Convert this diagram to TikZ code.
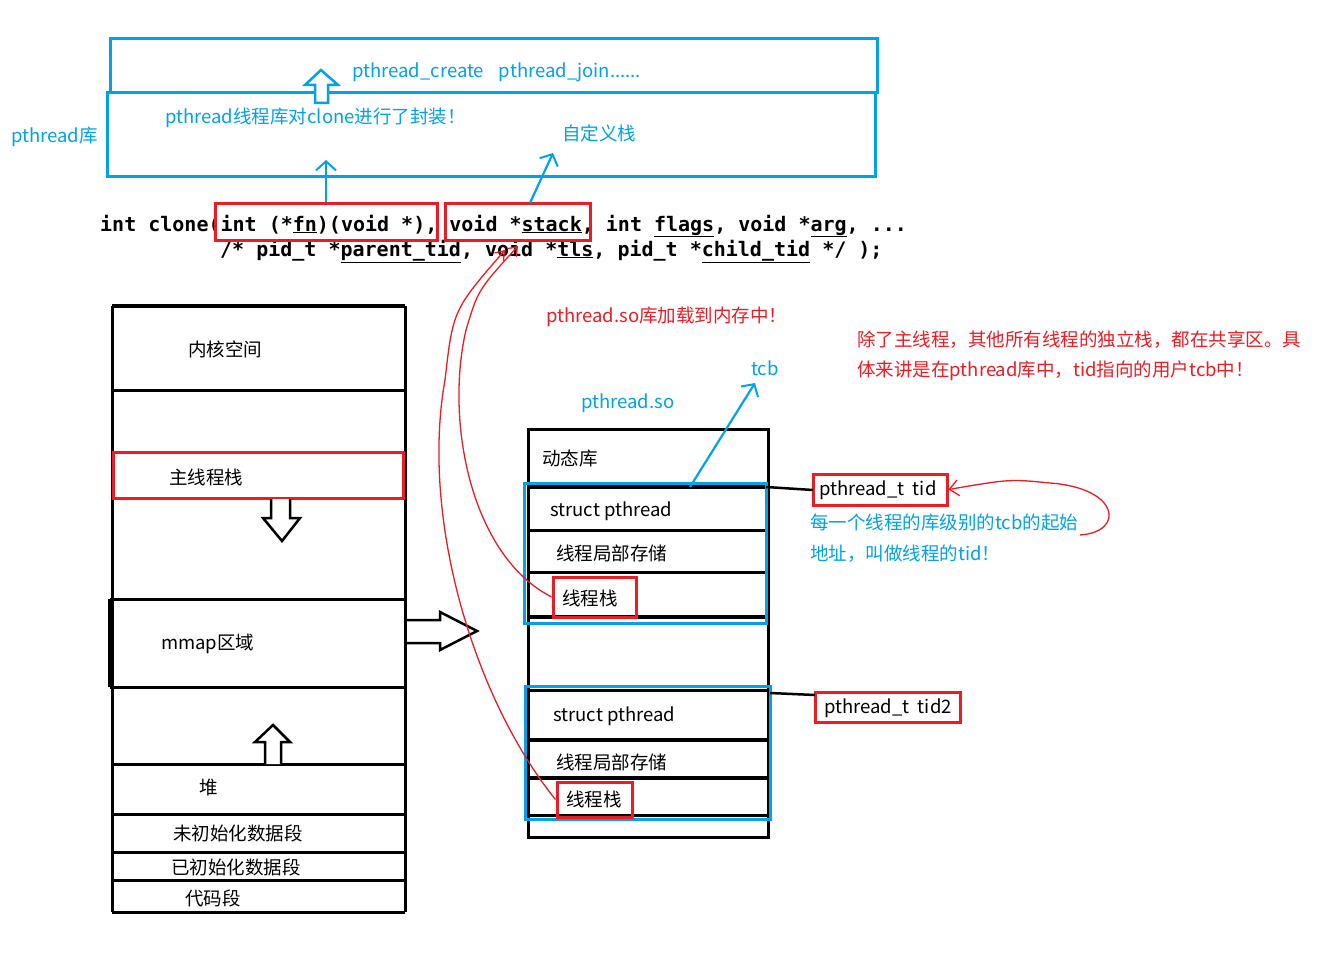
\documentclass[tikz,border=0pt]{standalone}
\usepackage{fontspec}
\setmainfont{Noto Sans CJK SC}
\newfontfamily\codefont{DejaVu Sans Mono}
\usetikzlibrary{arrows.meta}
\definecolor{pblue}{RGB}{0,162,232}
\definecolor{pred}{RGB}{237,28,36}
\begin{document}
\begin{tikzpicture}[x=1pt,y=-1pt,
  lbl/.style={anchor=west,inner sep=0pt,font=\fontsize{18.5}{22}\selectfont},
  bluetxt/.style={lbl,text=pblue},
  redtxt/.style={lbl,text=pred},
  code/.style={anchor=base west,inner sep=0pt,font=\codefont\bfseries\fontsize{20}{24}\selectfont},
  blk/.style={draw=black,line width=3pt},
  bluebox/.style={draw=pblue,line width=3pt},
  redbox/.style={draw=pred,line width=3pt},
  hollow/.style={draw=black,line width=2.5pt,fill=white,line join=miter},
  bluearrow/.style={draw=pblue,line width=2.2pt,-{Straight Barb[length=9pt,width=20pt,line width=2pt]}},
  redcurve/.style={draw=pred,line width=1.3pt,-{Straight Barb[length=8pt,width=12pt]}}
]
\useasboundingbox[fill=white] (0,0) rectangle (1321,952);

% ---------- pthread library boxes ----------
\draw[bluebox] (110,39) rectangle (877,93);
\draw[bluebox] (107,93) rectangle (875,177);
\draw[draw=pblue,line width=2.5pt,fill=white] (315,103) -- (315,85) -- (305,85) -- (321,70) -- (338,85) -- (328,85) -- (328,103) -- cycle;
\node[bluetxt] (api) at (352,72) {pthread\_create\hspace{0.8em}pthread\_join......};
\node[bluetxt] (wrap) at (165,118) {pthread线程库对clone进行了封装！};
\node[bluetxt] (ustack) at (562,133) {自定义栈};
\node[bluetxt] (plib) at (11,137) {pthread库};
\coordinate (fnTarget) at (326,160);
\coordinate (stTarget) at (553,153);

% ---------- clone prototype ----------
\node[code] (line1) at (100,231) {int clone(int (*\underline{fn})(void *), void *\underline{stack}, int \underline{flags}, void *\underline{arg}, ...};
\node[code] (line2) at (220,256) {/* pid\_t *\underline{parent\_tid}, void *\underline{tls}, pid\_t *\underline{child\_tid} */ );};
\node[redbox,minimum width=222pt,minimum height=37pt,inner sep=0pt] (fnbox) at (326,221.5) {};
\node[redbox,minimum width=145pt,minimum height=37pt,inner sep=0pt] (stbox) at (517.5,221.5) {};
\draw[bluearrow] (fnbox.north) -- (fnTarget);
\draw[bluearrow] (530,203) -- (stTarget);

% ---------- process address space ----------
\draw[blk] (112,306) -- (112,912);
\draw[blk] (405,306) -- (405,912);
\draw[draw=black,line width=4pt] (112,306) -- (405,306);
\draw[blk] (112,390) -- (405,390);
\draw[blk] (110,599) -- (405,599);
\draw[draw=black,line width=4pt] (110,599) -- (110,687);
\draw[blk] (110,687) -- (405,687);
\draw[blk] (112,764) -- (405,764);
\draw[blk] (112,814) -- (405,814);
\draw[blk] (112,852) -- (405,852);
\draw[blk] (112,880) -- (405,880);
\draw[blk] (112,912) -- (405,912);
\node[redbox,minimum width=290pt,minimum height=46pt,inner sep=0pt] (mainstack) at (258,475) {};
\draw[hollow] (271,499) -- (271,518) -- (263,518) -- (282,541) -- (300,518) -- (290,518) -- (290,499);
\draw[hollow] (265,764) -- (265,742) -- (255,742) -- (273,725) -- (290,742) -- (281,742) -- (281,764);
\draw[hollow] (407,620) -- (440,620) -- (440,612) -- (477,631) -- (440,650) -- (440,643) -- (407,643);
\node[lbl] (kern) at (188,349) {内核空间};
\node[lbl] (mstk) at (169,477) {主线程栈};
\node[lbl] (mmap) at (161,644) {mmap区域};
\node[lbl] (heap) at (199,788) {堆};
\node[lbl] (bss) at (173,833) {未初始化数据段};
\node[lbl] (data) at (171,867) {已初始化数据段};
\node[lbl] (text) at (185,898) {代码段};

% ---------- pthread.so ----------
\node[redtxt] (load) at (546,317) {pthread.so库加载到内存中！};
\node[redtxt,align=left,font=\fontsize{18.5}{30}\selectfont] (note) at (857,356) {除了主线程，其他所有线程的独立栈，都在共享区。具\\体来讲是在pthread库中，tid指向的用户tcb中！};
\node[bluetxt] (tcb) at (751,368) {tcb};
\node[bluetxt] (pso) at (581,403) {pthread.so};

\draw[blk] (528,429) rectangle (768,837);
\node[lbl] (dyn) at (542,458) {动态库};
% first thread block
\draw[draw=black,line width=4pt] (528,487) -- (766,487);
\draw[blk] (528,530) -- (766,530);
\draw[blk] (528,572) -- (766,572);
\draw[draw=black,line width=4pt] (528,617) -- (766,617);
\draw[bluebox] (524,483) rectangle (766,623);
\node[lbl] (sp1) at (550,511) {struct pthread};
\node[lbl] (tls1) at (556,553) {线程局部存储};
\node[redbox,minimum width=83pt,minimum height=40pt,inner sep=0pt] (stk1) at (594.5,597) {};
\node[lbl] (stk1t) at (562,598) {线程栈};
% second thread block
\draw[blk] (528,690) -- (768,690);
\draw[draw=black,line width=4pt] (528,740) -- (768,740);
\draw[draw=black,line width=4pt] (528,778) -- (768,778);
\draw[blk] (528,815) -- (768,815);
\draw[bluebox] (525,686) rectangle (770,819);
\node[lbl] (sp2) at (553,716) {struct pthread};
\node[lbl] (tls2) at (556,762) {线程局部存储};
\node[redbox,minimum width=75pt,minimum height=35pt,inner sep=0pt] (stk2) at (594.5,799.5) {};
\node[lbl] (stk2t) at (566,799) {线程栈};

% tcb arrow
\coordinate (tcbTail) at (690,487);
\draw[bluearrow] (tcbTail) -- (755,383);

% tid boxes
\node[redbox,minimum width=134pt,minimum height=31pt,inner sep=0pt] (tid) at (880,489.5) {};
\node[lbl] (tidt) at (819,490) {pthread\_t~~tid};
\node[redbox,minimum width=145pt,minimum height=30pt,inner sep=0pt] (tid2) at (887.5,707) {};
\node[lbl] (tid2t) at (824,708) {pthread\_t~~tid2};
\coordinate (tidJoin) at (813,490);
\coordinate (tid2Join) at (815,695);
\draw[draw=black,line width=2.5pt] (766,487) -- (tidJoin);
\draw[draw=black,line width=2.5pt] (770,693) -- (tid2Join);
\node[bluetxt,align=left,font=\fontsize{18.5}{31}\selectfont] (tidnote) at (810,538.5) {每一个线程的库级别的tcb的起始\\地址，叫做线程的tid！};
\coordinate (tidCurveStart) at (1080,535);
\draw[draw=pred,line width=1.3pt,-{Straight Barb[length=9pt,width=16pt]}] (tidCurveStart) .. controls (1125,532) and (1120,488) .. (1050,483) .. controls (1010,479) .. (tid.east);

% red curves from thread stacks to clone's stack argument
\coordinate (vA) at (518,246);
\coordinate (vB) at (505,250);
\draw[redcurve] (stk1.west) .. controls (470,555) and (445,420) .. (466,330) .. controls (478,290) .. (vA);
\draw[redcurve] (stk2.west) .. controls (475,700) and (420,520) .. (445,380) .. controls (453,310) .. (vB);
\end{tikzpicture}
\end{document}
